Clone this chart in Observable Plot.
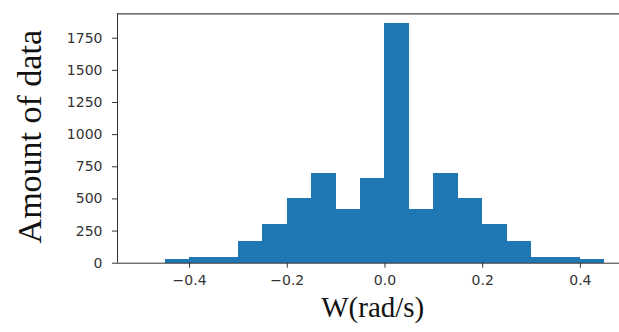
<!DOCTYPE html>
<html>
<head>
<meta charset="utf-8">
<script src="https://cdn.jsdelivr.net/npm/d3@7"></script>
<script src="https://cdn.jsdelivr.net/npm/@observablehq/plot@0.6"></script>
<style>
  html, body { margin: 0; padding: 0; background: #fff; overflow: hidden; }
  #chart svg { display: block; }
</style>
</head>
<body>
<div id="chart"></div>
<script>
// Histogram bins (left edges, width 0.05) and counts
const binStarts = [-0.50, -0.45, -0.40, -0.35, -0.30, -0.25, -0.20, -0.15, -0.10, -0.05,
                   0.00, 0.05, 0.10, 0.15, 0.20, 0.25, 0.30, 0.35, 0.40];
const binWidth = 0.05;
const counts = [0, 26, 42, 42, 171, 301, 503, 695, 418, 656,
                1861, 418, 695, 503, 301, 171, 42, 42, 26];
const xTicks = [-0.4, -0.2, 0.0, 0.2, 0.4];
const yTicks = [0, 250, 500, 750, 1000, 1250, 1500, 1750];
const xDomain = [-0.5475, 0.4975];
const yDomain = [0, 1940];
const xLabel = "W(rad/s)";
const yLabel = "Amount of data";

const bins = binStarts.map((s, i) => ({x1: s, x2: s + binWidth, count: counts[i]}));

const tickFont = "DejaVu Sans, sans-serif";
const labelFont = "Liberation Serif, 'Times New Roman', serif";

const chart = Plot.plot({
  width: 619,
  height: 332,
  marginLeft: 117,
  marginRight: -8.5,
  marginTop: 13.3,
  marginBottom: 69.3,
  style: {fontFamily: tickFont, fontSize: "14px", color: "#333", background: "#fff"},
  x: {domain: xDomain},
  y: {domain: yDomain},
  marks: [
    Plot.rectY(bins, {x1: "x1", x2: "x2", y: "count", fill: "#1f77b4", shapeRendering: "crispEdges"}),
    Plot.ruleY([yDomain[0]], {stroke: "#333", strokeWidth: 1}),
    Plot.ruleY([yDomain[1]], {stroke: "#444", strokeWidth: 1.3}),
    Plot.ruleX([xDomain[0]], {stroke: "#333", strokeWidth: 1}),
    Plot.axisX(xTicks, {tickSize: 5, tickPadding: 7, tickFormat: d3.format(".1f"), stroke: "#333", fill: "#333", label: null, fontSize: 14}),
    Plot.axisY(yTicks, {tickSize: 5, tickPadding: 10, tickFormat: d => String(d), stroke: "#333", fill: "#333", label: null, fontSize: 14}),
    Plot.text([xLabel], {frameAnchor: "bottom", textAnchor: "middle", text: d => d, dy: 54, fontSize: 29, fontFamily: labelFont, fill: "#111"}),
    Plot.text([yLabel], {frameAnchor: "left", textAnchor: "middle", text: d => d, dx: -87, dy: -1.8, rotate: -90, fontSize: 34, fontFamily: labelFont, fill: "#111"})
  ]
});
document.getElementById("chart").appendChild(chart);
</script>
</body>
</html>
